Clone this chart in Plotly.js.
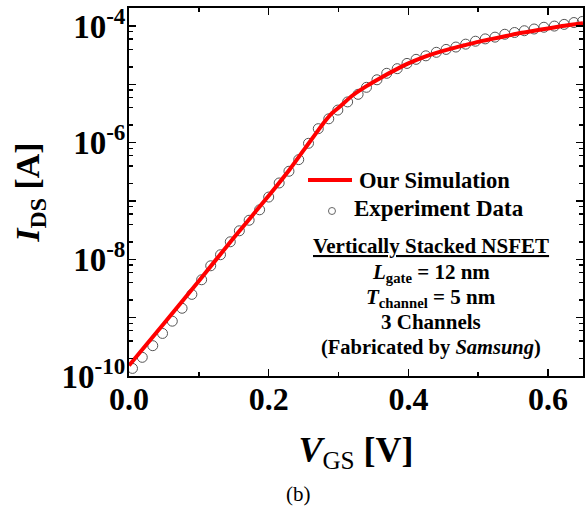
<!DOCTYPE html>
<html>
<head>
<meta charset="utf-8">
<script src="https://cdn.plot.ly/plotly-3.0.1.min.js"></script>
<style>html,body{margin:0;padding:0;background:#fff;}</style>
</head>
<body>
<div id="chart" style="width:588px;height:507px;"></div>
<script>
// Experiment data (V_GS in V, I_DS in A)
const expVgs = [0.005,0.019,0.034,0.048,0.062,0.076,0.090,0.104,0.117,0.131,0.145,0.158,0.172,0.187,0.200,0.215,0.229,0.243,0.257,0.271,0.286,0.299,0.313,0.328,0.340,0.355,0.369,0.384,0.398,0.411,0.425,0.440,0.454,0.468,0.482,0.496,0.510,0.524,0.538,0.552,0.566,0.580,0.594,0.609,0.623,0.637,0.649];
const expIds = [1.35e-10,2.09e-10,3.31e-10,5.37e-10,8.71e-10,1.45e-9,2.51e-9,4.47e-9,7.76e-9,1.20e-8,2.00e-8,3.09e-8,4.68e-8,7.08e-8,1.17e-7,2.04e-7,3.24e-7,5.13e-7,9.77e-7,1.74e-6,2.57e-6,3.63e-6,5.01e-6,6.76e-6,8.91e-6,1.20e-5,1.55e-5,1.86e-5,2.29e-5,2.69e-5,3.09e-5,3.55e-5,3.98e-5,4.37e-5,4.90e-5,5.50e-5,6.03e-5,6.46e-5,7.24e-5,7.76e-5,8.32e-5,8.91e-5,9.55e-5,1.00e-4,1.07e-4,1.15e-4,1.20e-4];

// Simulation curve
const simVgs = [0.00,0.05,0.10,0.15,0.20,0.23,0.256,0.27,0.28,0.29,0.30,0.32,0.34,0.36,0.38,0.40,0.42,0.44,0.46,0.48,0.50,0.52,0.54,0.56,0.58,0.60,0.62,0.65];
const simIds = [1.51e-10,7.94e-10,4.27e-9,2.34e-8,1.23e-7,3.47e-7,9.33e-7,1.58e-6,2.29e-6,3.16e-6,3.98e-6,6.46e-6,9.33e-6,1.29e-5,1.74e-5,2.29e-5,2.88e-5,3.47e-5,4.07e-5,4.68e-5,5.37e-5,6.03e-5,6.76e-5,7.59e-5,8.32e-5,9.12e-5,1.00e-4,1.12e-4];

// Tick labels
const xTickVals = [0, 0.2, 0.4, 0.6];
const xTickText = ["0.0", "0.2", "0.4", "0.6"];
const xMinorVals = [0.1, 0.3, 0.5];
const yTickVals = [1e-10, 1e-9, 1e-8, 1e-7, 1e-6, 1e-5, 1e-4];
const yTickText = ["10<sup>-10</sup>", "", "10<sup>-8</sup>", "", "10<sup>-6</sup>", "", "10<sup>-4</sup>"];
const yMinorVals = [];
for (let e = -10; e <= -4; e++) { [2,4,6,8].forEach(m => yMinorVals.push(m * Math.pow(10, e))); }

const FONT = "Liberation Serif, Times New Roman, serif";

const traces = [
  {
    x: expVgs, y: expIds, type: 'scatter', mode: 'markers', name: 'Experiment Data',
    marker: {symbol: 'circle-open', size: 10, color: '#555', line: {width: 1}},
    showlegend: false
  },
  {
    x: simVgs, y: simIds, type: 'scatter', mode: 'lines', name: 'Our Simulation',
    line: {color: '#ff0000', width: 4, shape: 'spline', smoothing: 0.6},
    showlegend: false
  }
];

const layout = {
  width: 588, height: 507,
  margin: {l: 129, r: 5, t: 8, b: 131},
  paper_bgcolor: '#fff', plot_bgcolor: '#fff',
  font: {family: FONT, color: '#000'},
  xaxis: {
    range: [0, 0.65], tickmode: 'array', tickvals: xTickVals, ticktext: xTickText,
    ticks: 'inside', ticklen: 7, tickwidth: 1.5, tickcolor: '#000',
    minor: {tickmode: 'array', tickvals: xMinorVals, ticks: 'inside', ticklen: 4, tickwidth: 1.5, tickcolor: '#000', showgrid: false},
    showline: true, linewidth: 2, linecolor: '#000', mirror: 'allticks',
    showgrid: false, zeroline: false,
    tickfont: {family: FONT, size: 32, weight: 700, color: '#000'},
    ticklabelstandoff: -6,
    title: {text: '<i>V</i><sub><span style="font-weight:normal">GS</span></sub> [V]', font: {family: FONT, size: 36, weight: 700, color: '#000'}, standoff: 20}
  },
  yaxis: {
    type: 'log', range: [-10, -3.69], tickmode: 'array', tickvals: yTickVals, ticktext: yTickText,
    ticks: 'inside', ticklen: 7, tickwidth: 1.5, tickcolor: '#000',
    minor: {tickmode: 'array', tickvals: yMinorVals, ticks: 'inside', ticklen: 4, tickwidth: 1.5, tickcolor: '#000', showgrid: false},
    showline: true, linewidth: 2, linecolor: '#000', mirror: 'allticks',
    showgrid: false, zeroline: false,
    tickfont: {family: FONT, size: 33, weight: 700, color: '#000'},
    ticklabelstandoff: -5,
    title: {text: '<i>I</i><sub>DS</sub> [A]', font: {family: FONT, size: 34, weight: 700, color: '#000'}, standoff: 12}
  },
  shapes: [
    {type: 'line', xref: 'paper', yref: 'paper', x0: 0.3943, x1: 0.4912, y0: 0.5326, y1: 0.5326, line: {color: '#ff0000', width: 4}},
    {type: 'circle', xref: 'paper', yref: 'paper', xsizemode: 'pixel', ysizemode: 'pixel', xanchor: 0.4471, yanchor: 0.4484, x0: -3.5, x1: 3.5, y0: -3.5, y1: 3.5, line: {color: '#666', width: 1}}
  ],
  annotations: [
    {text: '<b>Our Simulation</b>', xref: 'paper', yref: 'paper', x: 0.5022, y: 0.5326, xanchor: 'left', yanchor: 'middle', showarrow: false, font: {family: FONT, size: 22.6, color: '#000'}},
    {text: '<b>Experiment Data</b>', xref: 'paper', yref: 'paper', x: 0.4912, y: 0.4565, xanchor: 'left', yanchor: 'middle', showarrow: false, font: {family: FONT, size: 23, color: '#000'}},
    {text: '<b><span style="text-decoration:underline">Vertically Stacked NSFET</span></b>', xref: 'paper', yref: 'paper', x: 0.665, y: 0.3533, xanchor: 'center', yanchor: 'middle', showarrow: false, font: {family: FONT, size: 21, color: '#000'}},
    {text: '<b><i>L</i><sub>gate</sub> = 12 nm</b>', xref: 'paper', yref: 'paper', x: 0.665, y: 0.2799, xanchor: 'center', yanchor: 'middle', showarrow: false, font: {family: FONT, size: 21, color: '#000'}},
    {text: '<b><i>T</i><sub>channel</sub> = 5 nm</b>', xref: 'paper', yref: 'paper', x: 0.665, y: 0.2120, xanchor: 'center', yanchor: 'middle', showarrow: false, font: {family: FONT, size: 21, color: '#000'}},
    {text: '<b>3 Channels</b>', xref: 'paper', yref: 'paper', x: 0.665, y: 0.1467, xanchor: 'center', yanchor: 'middle', showarrow: false, font: {family: FONT, size: 21, color: '#000'}},
    {text: '<b>(Fabricated by <i>Samsung</i>)</b>', xref: 'paper', yref: 'paper', x: 0.665, y: 0.0761, xanchor: 'center', yanchor: 'middle', showarrow: false, font: {family: FONT, size: 20.5, color: '#000'}},
    {text: '(b)', xref: 'paper', yref: 'paper', x: 0.3744, y: -0.3207, xanchor: 'center', yanchor: 'middle', showarrow: false, font: {family: FONT, size: 21, color: '#000'}}
  ]
};

Plotly.newPlot('chart', traces, layout, {displayModeBar: false, staticPlot: true});
</script>
</body>
</html>
